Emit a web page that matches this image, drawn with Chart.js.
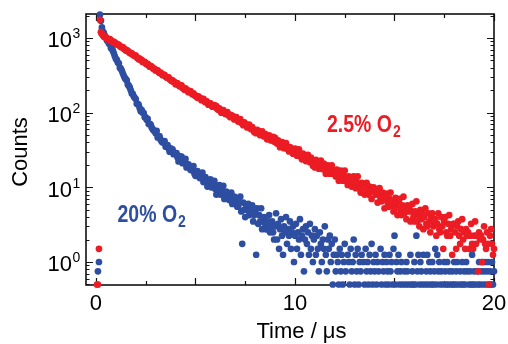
<!DOCTYPE html>
<html>
<head>
<meta charset="utf-8">
<script src="https://cdn.jsdelivr.net/npm/chart.js@4.4.1/dist/chart.umd.min.js"></script>
<style>
  html, body { margin: 0; padding: 0; background: #fff; }
  canvas { display: block; }
</style>
</head>
<body>
<canvas id="decayChart" width="508" height="344"></canvas>
<script>
// time bins (µs)
const timeUs = [
  0,0.05,0.1,0.15,0.2,0.25,0.3,0.35,0.4,0.45,0.5,0.55,0.6,0.65,0.7,0.75,0.8,0.85,0.9,0.95,
  1,1.05,1.1,1.15,1.2,1.25,1.3,1.35,1.4,1.45,1.5,1.55,1.6,1.65,1.7,1.75,1.8,1.85,1.9,1.95,
  2,2.05,2.1,2.15,2.2,2.25,2.3,2.35,2.4,2.45,2.5,2.55,2.6,2.65,2.7,2.75,2.8,2.85,2.9,2.95,
  3,3.05,3.1,3.15,3.2,3.25,3.3,3.35,3.4,3.45,3.5,3.55,3.6,3.65,3.7,3.75,3.8,3.85,3.9,3.95,
  4,4.05,4.1,4.15,4.2,4.25,4.3,4.35,4.4,4.45,4.5,4.55,4.6,4.65,4.7,4.75,4.8,4.85,4.9,4.95,
  5,5.05,5.1,5.15,5.2,5.25,5.3,5.35,5.4,5.45,5.5,5.55,5.6,5.65,5.7,5.75,5.8,5.85,5.9,5.95,
  6,6.05,6.1,6.15,6.2,6.25,6.3,6.35,6.4,6.45,6.5,6.55,6.6,6.65,6.7,6.75,6.8,6.85,6.9,6.95,
  7,7.05,7.1,7.15,7.2,7.25,7.3,7.35,7.4,7.45,7.5,7.55,7.6,7.65,7.7,7.75,7.8,7.85,7.9,7.95,
  8,8.05,8.1,8.15,8.2,8.25,8.3,8.35,8.4,8.45,8.5,8.55,8.6,8.65,8.7,8.75,8.8,8.85,8.9,8.95,
  9,9.05,9.1,9.15,9.2,9.25,9.3,9.35,9.4,9.45,9.5,9.55,9.6,9.65,9.7,9.75,9.8,9.85,9.9,9.95,
  10,10.05,10.1,10.15,10.2,10.25,10.3,10.35,10.4,10.45,10.5,10.55,10.6,10.65,10.7,10.75,10.8,10.85,10.9,10.95,
  11,11.05,11.1,11.15,11.2,11.25,11.3,11.35,11.4,11.45,11.5,11.55,11.6,11.65,11.7,11.75,11.8,11.85,11.9,11.95,
  12,12.05,12.1,12.15,12.2,12.25,12.3,12.35,12.4,12.45,12.5,12.55,12.6,12.65,12.7,12.75,12.8,12.85,12.9,12.95,
  13,13.05,13.1,13.15,13.2,13.25,13.3,13.35,13.4,13.45,13.5,13.55,13.6,13.65,13.7,13.75,13.8,13.85,13.9,13.95,
  14,14.05,14.1,14.15,14.2,14.25,14.3,14.35,14.4,14.45,14.5,14.55,14.6,14.65,14.7,14.75,14.8,14.85,14.9,14.95,
  15,15.05,15.1,15.15,15.2,15.25,15.3,15.35,15.4,15.45,15.5,15.55,15.6,15.65,15.7,15.75,15.8,15.85,15.9,15.95,
  16,16.05,16.1,16.15,16.2,16.25,16.3,16.35,16.4,16.45,16.5,16.55,16.6,16.65,16.7,16.75,16.8,16.85,16.9,16.95,
  17,17.05,17.1,17.15,17.2,17.25,17.3,17.35,17.4,17.45,17.5,17.55,17.6,17.65,17.7,17.75,17.8,17.85,17.9,17.95,
  18,18.05,18.1,18.15,18.2,18.25,18.3,18.35,18.4,18.45,18.5,18.55,18.6,18.65,18.7,18.75,18.8,18.85,18.9,18.95,
  19,19.05,19.1,19.15,19.2,19.25,19.3,19.35,19.4,19.45,19.5,19.55,19.6,19.65,19.7,19.75,19.8,19.85,19.9,19.95,
  20
];

// 2.5% O2 counts
const countsLowO2 = [
  null,0.5,0.5,1.5,1750,1197,1134,1085,1038,1038,1020,986,958,966,963,920,915,880,890,865,
  850,816,823,811,780,756,756,753,716,709,681,686,664,657,628,627,624,597,583,584,
  582,548,544,518,528,509,505,478,480,481,457,444,449,433,412,420,415,397,384,386,
  367,368,369,350,341,345,332,317,323,319,304,295,296,297,280,278,265,270,260,257,
  240,249,247,234,225,230,233,214,215,202,211,201,201,188,192,194,182,176,181,173,
  167,168,158,165,158,157,147,149,153,142,138,143,136,128,133,133,126,120,123,126,
  118,122,112,109,114,108,100,107,108,100,96,99,102,92,94,87,93,88,89,81,
  86,87,80,76,79.5,82,73,74.5,68,74,69.5,70,63.5,66.5,69,62.5,60,64,60,55,
  58.5,53,59,55,56,50,53,56,50,48,52,48.5,44,48.5,49.5,44.5,42.5,45,47.5,41,
  46,40,38.5,42.5,39.25,34.5,39.5,40.5,36,33.5,36.5,39.25,32.75,34.25,30.25,34.5,32,32.75,28.25,30.75,
  33,28.75,26.5,29.5,32.25,26.25,27.75,23.75,28.25,25.5,26.5,22.5,24.75,27.25,23,21.75,25,22.5,19.5,23,
  18.5,23.25,20.5,21.75,17.75,20,22.75,18.5,17.5,20.75,18.5,15.25,19.25,19.75,16.75,15.25,17.5,19.75,15.25,16.25,
  15,14,17.25,15,12.25,15.75,16.75,13.5,12.25,14.5,16.75,12.25,13.5,10.75,14,12.25,13,10.25,12,14,
  11,9.75,11.75,14,9.75,11,8.5,11.5,10,10.75,8,9.75,11.5,8.75,8,10.25,8.75,7,9.5,10,
  9.5,8,8.75,6.25,8,9.75,7,6.5,8.5,7.25,5.25,7.75,8.25,6.25,5.5,7,8.5,5.75,6.5,4.75,
  5,7.25,5.75,4.25,6.5,7,5,4.25,5.75,7.5,4.5,5.25,3.75,5.75,4.75,5.25,3.5,4.75,6,4,
  3.5,4.75,6.5,3.5,4.25,3,5,3.75,4.5,2.75,4,5.25,3.25,3,4.5,3.5,2.5,4,4.5,3,
  3.25,3.75,2.25,3.25,4.5,2.75,2.5,4,3,1.5,3.5,4,2.5,2.25,3.25,4.25,2.25,2.75,1.25,3.25,
  3.25,2.5,1.5,3,3.5,2.25,1.75,2.75,3.75,2,2.5,1.5,2.75,2.25,2.5,1.5,2.25,3.25,1.75,1.5,
  2.25,3.5,1.75,2.25,0.75,2.5,2,2.25,1,2,3,1.75,1.5,2.5,1.75,0.5,2.25,2.75,1.75,1.25,
  1.5
];

// 20% O2 counts
const countsHighO2 = [
  null,null,0.75,1,2050,1708,1387,1214,1165,1070,1012,935,907,847,825,737,716,677,625,569,
  526,508,469,459,401,388,367,336,312,292,281,270,238,230,218,199,181,179,165,158,
  152,131.5,131,127,115,104.5,108,100,99,87,86.5,80.5,82.5,70.5,71,69,63.5,60,57.5,57,
  53,57,46.5,48.5,48,43.5,41,40,40.5,41.75,35,36.5,36.75,33,30,33.25,31,32.25,27.75,29,
  28,28.75,25,22.25,26.25,24,25.75,21,22.75,21.25,24,18.5,20,20.25,18.25,17.25,17,18,19.25,15.25,
  14.25,16,16.5,14.5,13.5,13.25,14.25,15.75,11.75,13.25,13.75,11.75,10.25,12.5,11.5,12.75,10,11.25,10.25,12.25,
  9.5,8,10.5,9.5,10.75,8,9.25,8.5,10.5,7,8.25,8.75,7.5,7,6.75,7.5,8.5,6,7,7.5,
  7.25,6,5.5,5.5,6.25,7.5,4.75,1.75,6.25,5,4,5.75,5,6,4.25,5,4.5,5.75,3.5,4.25,
  4.75,1.25,5.25,3.25,4.25,3.5,5.25,2.75,3.5,4,3.25,2.75,2.75,3.5,4.25,2.5,3,3.5,2.5,2,
  3,4.5,2,3.25,1.5,2.75,3.75,2.25,1.25,3,2.5,4,1.75,2.75,2.25,3.5,1.5,2.5,3,1,
  2.25,3.25,1.5,2.5,2,3.75,1.25,2.25,2.75,0.75,2,3,1.75,2.5,1.25,3.25,1.5,2.25,1,2,
  2.75,1.25,2.25,1.5,0.75,2.5,1.75,1,2,1.5,3,1.25,0.75,2,1.5,2.25,1,1.75,0.5,1.25,
  2,0.75,1.25,1,0.5,1.5,0.75,1.25,0.5,1,1.75,0.75,null,1.25,1,0.5,1.5,0.75,1,2,
  0.5,1.25,0.75,1.5,0.5,1,0.75,1.25,null,1,0.5,1.5,0.75,1,0.5,1.25,0.75,1.75,0.5,1,
  0.75,1.25,0.5,1,0.75,null,1.5,0.5,1,0.75,1.25,0.5,1,0.75,0.5,1.25,0.75,1,0.5,1.5,
  2.25,0.5,1,0.75,1.25,0.5,0.75,1,0.5,null,0.75,0.5,1,0.75,0.5,null,1.25,0.5,0.75,0.5,
  1,0.5,2.25,0.75,1.25,0.5,1,0.75,0.5,1.25,null,0.5,0.75,1.25,0.5,1,0.75,0.5,1,0.5,
  0.75,1.5,0.5,1.25,0.75,1,0.5,0.75,null,0.5,1,0.75,0.5,1,0.5,0.75,null,0.5,0.75,0.5,
  1,0.5,0.75,1,0.5,null,0.75,0.5,1,0.5,0.75,0.5,1,0.75,null,0.5,0.75,0.5,1.25,0.5,
  0.75,0.5,null,0.75,0.5,1,0.5,0.75,1,0.5,0.75,1,0.5,0.75,1,0.5,0.75,0.5,1,0.5,
  0.75
];

// axes
const xTickValues = [0, 2.5, 5, 7.5, 10, 12.5, 15, 17.5, 20];
const xTickLabels = ['0', '10', '20'];
const xLabelValues = [0, 10, 20];
const yDecades = [1, 10, 100, 1000];
const yExponents = ['0', '1', '2', '3'];

const RED = '#ec1c24';
const BLUE = '#2d4ea1';
const FONT = '"Liberation Sans", Arial, Helvetica, sans-serif';

function toPoints(counts) {
  return timeUs.map((t, i) => ({ x: t, y: counts[i] }));
}

// minor ticks 2..9 in each decade, inside the y range
function yMinorTicks(min, max) {
  const out = [];
  [0.1, 1, 10, 100, 1000].forEach(d => {
    for (let m = 2; m <= 9; m++) {
      const v = d * m;
      if (v >= min && v <= max) out.push(v);
    }
  });
  return out;
}

const framePlugin = {
  id: 'frame',
  beforeDatasetsDraw(chart) {
    const { ctx, chartArea: a, scales: { x, y } } = chart;
    ctx.save();
    ctx.strokeStyle = '#111';
    ctx.lineWidth = 1.2;
    ctx.beginPath();
    xTickValues.forEach(v => {
      const px = Math.round(x.getPixelForValue(v)) + 0.5;
      const len = v % 5 === 0 ? 7 : 4;
      ctx.moveTo(px, a.bottom); ctx.lineTo(px, a.bottom - len);
      ctx.moveTo(px, a.top); ctx.lineTo(px, a.top + len);
    });
    yMinorTicks(y.min, y.max).forEach(v => {
      const py = Math.round(y.getPixelForValue(v)) + 0.5;
      ctx.moveTo(a.left, py); ctx.lineTo(a.left + 3.5, py);
      ctx.moveTo(a.right, py); ctx.lineTo(a.right - 3.5, py);
    });
    yDecades.forEach(v => {
      const py = Math.round(y.getPixelForValue(v)) + 0.5;
      ctx.moveTo(a.left, py); ctx.lineTo(a.left + 7, py);
      ctx.moveTo(a.right, py); ctx.lineTo(a.right - 7, py);
    });
    ctx.stroke();
    ctx.lineWidth = 1.6;
    ctx.strokeRect(a.left, a.top, a.right - a.left, a.bottom - a.top);
    ctx.restore();
  },
  afterDraw(chart) {
    const { ctx, scales: { x, y } } = chart;
    ctx.save();
    ctx.fillStyle = '#000';
    ctx.textBaseline = 'alphabetic';

    // y tick labels 10^n
    yDecades.forEach((v, i) => {
      const py = y.getPixelForValue(v);
      ctx.font = '22px ' + FONT;
      ctx.textAlign = 'right';
      ctx.fillText('10', 72, py + 9.5);
      ctx.font = '14px ' + FONT;
      ctx.textAlign = 'left';
      ctx.fillText(yExponents[i], 72.5, py + 0.5);
    });

    // x tick labels
    ctx.font = '22px ' + FONT;
    ctx.textAlign = 'center';
    xLabelValues.forEach((v, i) => {
      ctx.fillText(xTickLabels[i], x.getPixelForValue(v), 310);
    });

    // axis titles
    ctx.fillText('Time / \u03bcs', 301.5, 338);
    ctx.save();
    ctx.translate(27, 152);
    ctx.rotate(-Math.PI / 2);
    ctx.fillText('Counts', 0, 0);
    ctx.restore();

    // series labels
    const label = (text, sub, left, base, color) => {
      ctx.fillStyle = color;
      ctx.textAlign = 'left';
      ctx.save();
      ctx.translate(left, base);
      ctx.scale(1, 1.22);
      ctx.font = 'bold 19.5px ' + FONT;
      ctx.fillText(text, 0, 0);
      const w = ctx.measureText(text).width;
      ctx.restore();
      ctx.save();
      ctx.translate(left + w + 1, base + 5);
      ctx.scale(1, 1.15);
      ctx.font = 'bold 14px ' + FONT;
      ctx.fillText(sub, 0, 0);
      ctx.restore();
    };
    label('2.5% O', '2', 327, 131.5, RED);
    label('20% O', '2', 117.5, 222, BLUE);
    ctx.restore();
  }
};

new Chart(document.getElementById('decayChart'), {
  type: 'scatter',
  data: {
    datasets: [
      {
        label: '2.5% O2',
        data: toPoints(countsLowO2),
        backgroundColor: RED,
        borderColor: RED,
        pointRadius: 3.35,
        pointBorderWidth: 0,
        borderWidth: 0,
        clip: 4
      },
      {
        label: '20% O2',
        data: toPoints(countsHighO2),
        backgroundColor: BLUE,
        borderColor: BLUE,
        pointRadius: 3.35,
        pointBorderWidth: 0,
        borderWidth: 0,
        clip: 4
      }
    ]
  },
  options: {
    responsive: false,
    animation: false,
    devicePixelRatio: 1,
    events: [],
    layout: { padding: { left: 86, right: 14, top: 14, bottom: 59 } },
    plugins: { legend: { display: false }, tooltip: { enabled: false } },
    scales: {
      x: { type: 'linear', min: -0.5, max: 20, display: false },
      y: { type: 'logarithmic', min: 0.492, max: 2096, display: false }
    }
  },
  plugins: [framePlugin]
});
</script>
</body>
</html>
